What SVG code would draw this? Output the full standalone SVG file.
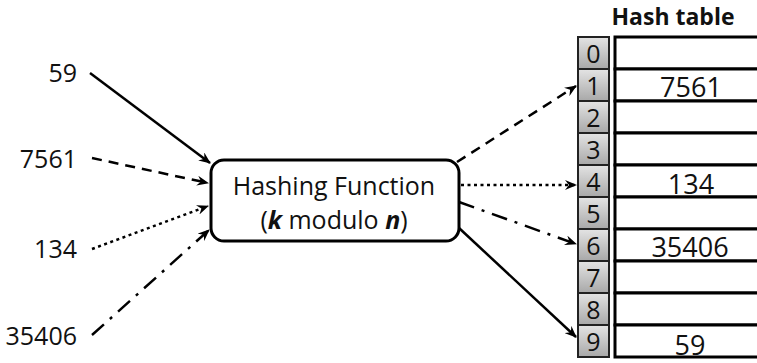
<svg xmlns="http://www.w3.org/2000/svg" width="757" height="363" viewBox="0 0 757 363">
  <defs>
    <linearGradient id="cellGrad" x1="0" y1="0" x2="0" y2="1">
      <stop offset="0" stop-color="#e4e4e4"/>
      <stop offset="1" stop-color="#a8a8a8"/>
    </linearGradient>
    <marker id="arrow" viewBox="0 0 12 10" refX="11" refY="5" markerWidth="12" markerHeight="10" markerUnits="userSpaceOnUse" orient="auto">
      <path d="M0,0 L12,5 L0,10 L4,5 z" fill="#000"/>
    </marker>
  </defs>
  <style>
    text { font-family: "Open Sans", "Liberation Sans", sans-serif; fill: #111; }
    .lbl { font-size: 25px; text-anchor: end; }
    .idx { font-size: 25px; text-anchor: middle; }
    .val { font-size: 27px; text-anchor: middle; }
    .title { font-size: 23px; font-weight: bold; text-anchor: middle; }
    .fn { font-size: 25px; text-anchor: middle; }
    .cell { fill: url(#cellGrad); stroke: #222; stroke-width: 2; }
    .row { fill: #fff; stroke: #000; stroke-width: 3; }
    .conn { fill: none; stroke: #000; stroke-width: 2.5; marker-end: url(#arrow); }
    .solid { }
    .dash { stroke-dasharray: 10 7; }
    .dot { stroke-dasharray: 3 3.5; }
    .dashdot { stroke-dasharray: 16 8 3 8; }
  </style>
  <rect width="757" height="363" fill="#fff"/>

  <!-- keys -->
  <g id="key-59"><text class="lbl" x="77" y="82">59</text></g>
  <g id="key-7561"><text class="lbl" x="77" y="168">7561</text></g>
  <g id="key-134"><text class="lbl" x="77" y="258">134</text></g>
  <g id="key-35406"><text class="lbl" x="77" y="345">35406</text></g>

  <!-- hashing function -->
  <g id="hash-function">
    <rect x="211" y="160" width="248" height="81" rx="13" ry="13" fill="#fff" stroke="#000" stroke-width="3"/>
    <text class="fn" x="334" y="195">Hashing Function</text>
    <text class="fn" x="334" y="229">(<tspan font-weight="bold" font-style="italic">k</tspan> modulo <tspan font-weight="bold" font-style="italic">n</tspan>)</text>
  </g>

  <!-- hash table -->
  <g id="hash-table">
    <text class="title" x="673" y="25">Hash table</text>
    <g id="rows">
      <rect class="row" x="615" y="37" width="160" height="32"/>
      <rect class="row" x="615" y="69" width="160" height="32"/>
      <rect class="row" x="615" y="101" width="160" height="32"/>
      <rect class="row" x="615" y="133" width="160" height="32"/>
      <rect class="row" x="615" y="165" width="160" height="32"/>
      <rect class="row" x="615" y="197" width="160" height="32"/>
      <rect class="row" x="615" y="229" width="160" height="32"/>
      <rect class="row" x="615" y="261" width="160" height="32"/>
      <rect class="row" x="615" y="293" width="160" height="32"/>
      <rect class="row" x="615" y="325" width="160" height="32"/>
    </g>
    <g id="indices">
      <rect class="cell" x="578" y="37" width="31" height="32"/>
      <rect class="cell" x="578" y="69" width="31" height="32"/>
      <rect class="cell" x="578" y="101" width="31" height="32"/>
      <rect class="cell" x="578" y="133" width="31" height="32"/>
      <rect class="cell" x="578" y="165" width="31" height="32"/>
      <rect class="cell" x="578" y="197" width="31" height="32"/>
      <rect class="cell" x="578" y="229" width="31" height="32"/>
      <rect class="cell" x="578" y="261" width="31" height="32"/>
      <rect class="cell" x="578" y="293" width="31" height="32"/>
      <rect class="cell" x="578" y="325" width="31" height="32"/>
      <text class="idx" x="593.5" y="63">0</text>
      <text class="idx" x="593.5" y="95">1</text>
      <text class="idx" x="593.5" y="127">2</text>
      <text class="idx" x="593.5" y="159">3</text>
      <text class="idx" x="593.5" y="191">4</text>
      <text class="idx" x="593.5" y="223">5</text>
      <text class="idx" x="593.5" y="255">6</text>
      <text class="idx" x="593.5" y="287">7</text>
      <text class="idx" x="593.5" y="319">8</text>
      <text class="idx" x="593.5" y="351">9</text>
    </g>
    <g id="values">
      <text class="val" x="691" y="97">7561</text>
      <text class="val" x="691" y="194">134</text>
      <text class="val" x="690" y="257">35406</text>
      <text class="val" x="690" y="355">59</text>
    </g>
  </g>

  <!-- connectors -->
  <g id="connectors">
    <line class="conn solid" x1="90" y1="73" x2="210" y2="163"/>
    <line class="conn dash" x1="92" y1="158" x2="208" y2="183"/>
    <line class="conn dot" x1="92" y1="249" x2="208" y2="206"/>
    <line class="conn dashdot" x1="92" y1="335" x2="209" y2="230"/>
    <line class="conn dash" x1="457" y1="162" x2="576" y2="86"/>
    <line class="conn dot" x1="461" y1="185" x2="576" y2="185"/>
    <line class="conn dashdot" x1="459" y1="202" x2="576" y2="244"/>
    <line class="conn solid" x1="459" y1="228" x2="576" y2="337"/>
  </g>
</svg>
